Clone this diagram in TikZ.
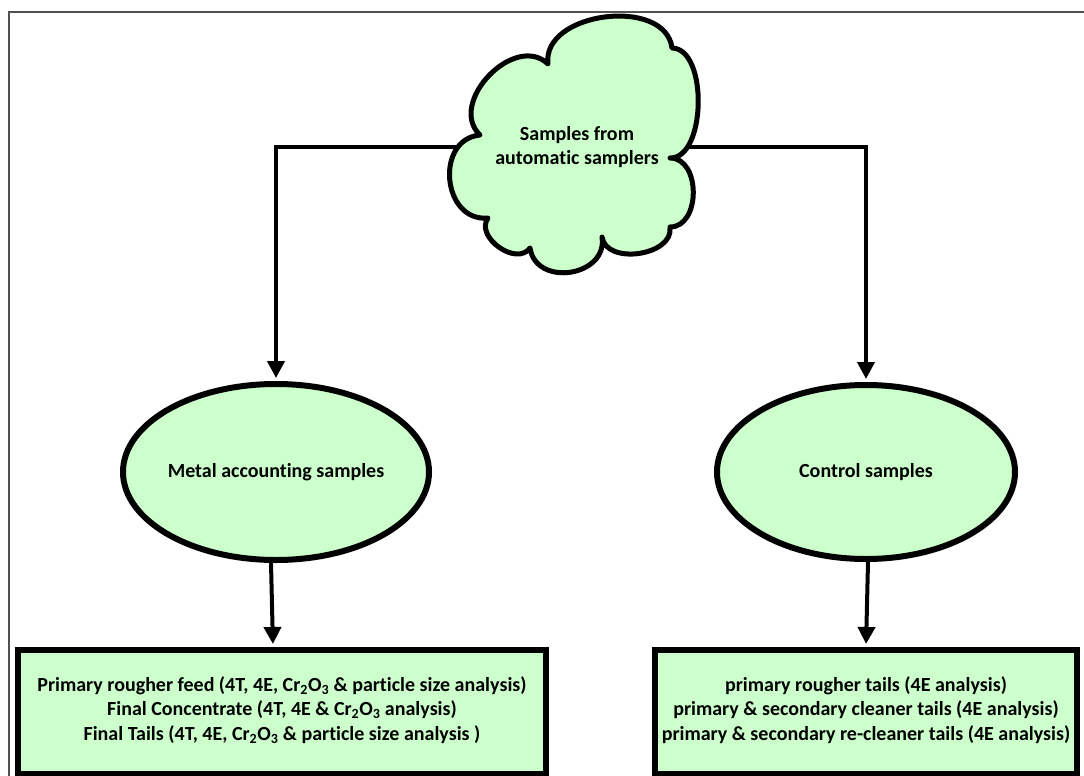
\documentclass[tikz,border=0pt]{standalone}
\usepackage{fontspec}
\setmainfont{Carlito}[Ligatures=NoCommon]
\usetikzlibrary{arrows.meta,shapes.geometric,calc}
\pgfdeclarelayer{background}
\pgfsetlayers{background,main}
\definecolor{mint}{HTML}{CCFFCC}
\definecolor{framegray}{HTML}{505050}

\begin{document}
\begin{tikzpicture}[x=1pt,y=-1pt,
  txt/.style={font=\bfseries\fontsize{20}{24.5}\selectfont, align=center, text=black},
  oval/.style={ellipse, draw=black, line width=6pt, fill=mint, inner sep=0pt, txt},
  panel/.style={draw=black, line width=6pt, fill=mint, inner sep=0pt, txt},
  link/.style={draw=black, line width=4pt, shorten >=3pt,
               -{Triangle[width=17pt,length=17pt]}},
  puff/.style={draw=black, line width=5pt, fill=mint, line join=round}]

\useasboundingbox (0,0) rectangle (1084,776);

% page frame
\draw[framegray, line width=2pt] (9,800) -- (9,12) -- (1100,12);

% sample groups
\node[oval, minimum width=288, minimum height=176] (ma) at (276,472) {Metal accounting samples};
\node[oval, minimum width=298, minimum height=174] (cs) at (866,472) {Control samples};

% analysis lists
\node[panel, minimum width=528, minimum height=124] (mb) at (282,712) {};
\node[txt] at ([yshift=2]mb.center)
  {Primary rougher feed (4T, 4E, Cr\textsubscript{2}O\textsubscript{3} \& particle size analysis)\\
   Final Concentrate (4T, 4E \& Cr\textsubscript{2}O\textsubscript{3} analysis)\\
   Final Tails (4T, 4E, Cr\textsubscript{2}O\textsubscript{3} \& particle size analysis )};
\node[panel, minimum width=422, minimum height=124] (cb) at (866,712) {};
\node[txt] at ([yshift=2]cb.center)
  {primary rougher tails (4E analysis)\\
   primary \& secondary cleaner tails (4E analysis)\\
   primary \& secondary re-cleaner tails (4E analysis)};

% source cloud outline (notch points between the puffs)
\coordinate (n1) at (480,135);
\coordinate (n2) at (548,64);
\coordinate (n3) at (672,48);
\coordinate (n4) at (670,158);
\coordinate (n5) at (670,227);
\coordinate (n6) at (602,237);
\coordinate (n7) at (530,248);
\coordinate (n8) at (488,218);
\path[puff]
  (n1) .. controls ($(n1)!0.47!90:(n2)$) and ($(n2)!0.47!-90:(n1)$) .. (n2)
       .. controls ($(n2)!0.42!90:(n3)$) and ($(n3)!0.42!-90:(n2)$) .. (n3)
       .. controls ($(n3)!0.33!90:(n4)$) and ($(n4)!0.33!-90:(n3)$) .. (n4)
       .. controls ($(n4)!0.45!90:(n5)$) and ($(n5)!0.45!-90:(n4)$) .. (n5)
       .. controls ($(n5)!0.42!90:(n6)$) and ($(n6)!0.42!-90:(n5)$) .. (n6)
       .. controls ($(n6)!0.55!90:(n7)$) and ($(n7)!0.55!-90:(n6)$) .. (n7)
       .. controls ($(n7)!0.45!90:(n8)$) and ($(n8)!0.45!-90:(n7)$) .. (n8)
       .. controls ($(n8)!0.55!90:(n1)$) and ($(n1)!0.55!-90:(n8)$) .. (n1)
  -- cycle;
\node[txt] (src) at (577,147) {Samples from\\automatic samplers};

% connectors, kept beneath the shapes
\begin{pgfonlayer}{background}
  \draw[link] (src.center) -| (ma.north);
  \draw[link] (src.center) -| (cs.north);
  \draw[link] ($(ma.south)+(-5,0)$) -- ($(mb.north)+(-9,0)$);
  \draw[link] ($(cs.south)+(2,0)$) -- (cb.north);
\end{pgfonlayer}
\end{tikzpicture}
\end{document}
